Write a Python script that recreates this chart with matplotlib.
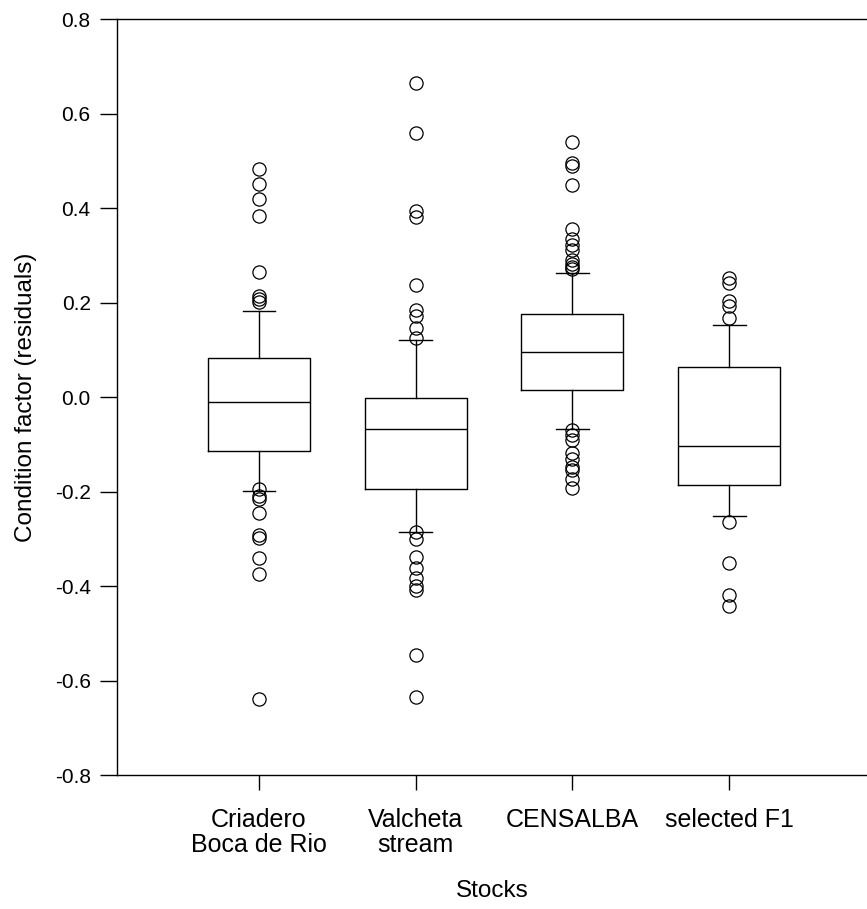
import matplotlib
matplotlib.use("Agg")
import matplotlib.pyplot as plt

plt.rcParams["font.family"] = ["Liberation Sans", "DejaVu Sans"]

stocks = ["Criadero\nBoca de Rio", "Valcheta\nstream", "CENSALBA", "selected F1"]

# box summaries
medians = [-0.010, -0.068, 0.095, -0.103]
q1 = [-0.115, -0.195, 0.015, -0.186]
q3 = [0.083, -0.001, 0.176, 0.064]
whisk_lo = [-0.198, -0.286, -0.068, -0.251]
whisk_hi = [0.182, 0.121, 0.263, 0.152]

outliers = [
    [0.483, 0.451, 0.420, 0.383, 0.265, 0.214, 0.207, 0.201,
     -0.195, -0.209, -0.216, -0.245, -0.292, -0.298, -0.341, -0.374, -0.640],
    [0.665, 0.558, 0.394, 0.381, 0.237, 0.184, 0.171, 0.147, 0.124,
     -0.285, -0.300, -0.338, -0.362, -0.383, -0.400, -0.408, -0.546, -0.635],
    [0.540, 0.496, 0.489, 0.449, 0.355, 0.334, 0.322, 0.311, 0.290, 0.281,
     0.276, 0.271, -0.070, -0.080, -0.091, -0.118, -0.132, -0.147, -0.154,
     -0.174, -0.192],
    [0.251, 0.241, 0.203, 0.193, 0.167, -0.264, -0.352, -0.420, -0.442],
]

stats = []
for i in range(len(stocks)):
    stats.append({
        "med": medians[i], "q1": q1[i], "q3": q3[i],
        "whislo": whisk_lo[i], "whishi": whisk_hi[i],
        "fliers": outliers[i], "label": stocks[i],
    })

fig = plt.figure(figsize=(8.67, 9.09), dpi=100)
ax = fig.add_axes([0.135, 0.1474, 0.865, 0.8316])

line = dict(color="black", linewidth=1.0)
ax.bxp(stats, positions=[1, 2, 3, 4], widths=0.65,
       boxprops=line, medianprops=line, whiskerprops=line, capprops=line,
       capwidths=0.21,
       flierprops=dict(marker="o", markerfacecolor="none", markeredgecolor="black",
                       markersize=9.5, markeredgewidth=0.9))

ax.set_xlim(0.094, 4.88)
ax.set_ylim(-0.8, 0.8)
ax.set_yticks([-0.8, -0.6, -0.4, -0.2, 0.0, 0.2, 0.4, 0.6, 0.8])
ax.set_yticklabels(["%.1f" % v for v in ax.get_yticks()])
ax.spines["right"].set_visible(False)
for s in ["left", "bottom", "top"]:
    ax.spines[s].set_linewidth(1.0)
ax.tick_params(axis="y", direction="out", length=12, width=1.0, labelsize=15, pad=7)
ax.tick_params(axis="x", direction="out", length=11, width=1.0, labelsize=18, pad=13)
for t in ax.get_xticklabels():
    t.set_linespacing(1.05)

ax.set_ylabel("Condition factor (residuals)", fontsize=17.5, labelpad=13)
ax.set_xlabel("Stocks", fontsize=17.5, labelpad=16)

fig.savefig("out.png", dpi=100)
